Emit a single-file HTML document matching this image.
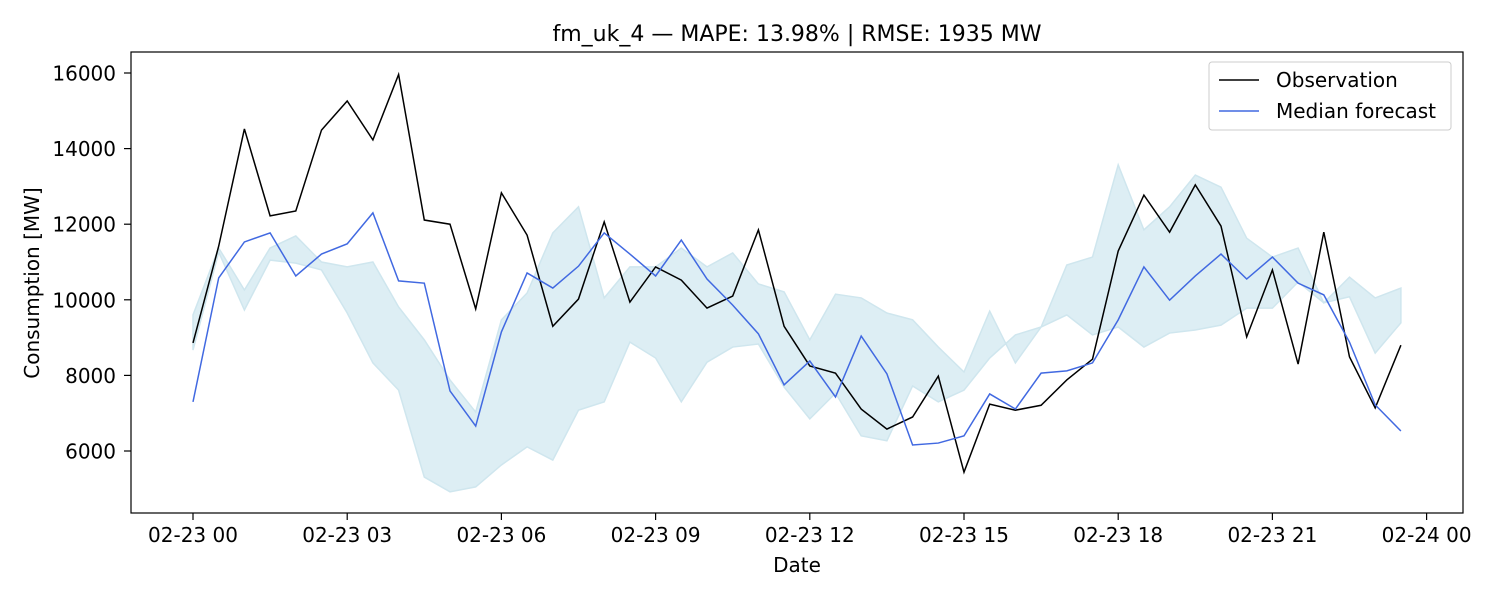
<!DOCTYPE html>
<html><head><meta charset="utf-8"><style>
body{margin:0;background:#fff;font-family:"DejaVu Sans","Liberation Sans",sans-serif}
svg text{font-family:"DejaVu Sans","Liberation Sans",sans-serif}
</style></head><body>
<svg id="chart" width="1500" height="600" xmlns="http://www.w3.org/2000/svg">
<rect width="1500" height="600" fill="#fff"/>
<text x="797" y="41" text-anchor="middle" font-size="22">fm_uk_4 — MAPE: 13.98% | RMSE: 1935 MW</text>
<g id="band"></g><g id="lines"></g><g id="axes"></g>
</svg>
<script>
const observation=[8860,11420,14520,12220,12350,14490,15260,14230,15960,12110,12000,9760,12830,11710,9300,10020,12060,9940,10870,10520,9780,10100,11850,9300,8250,8060,7110,6580,6900,7980,5440,7240,7080,7210,7880,8430,11290,12770,11790,13040,11950,9020,10790,8300,11790,8490,7140,8800];
const median=[7300,10580,11530,11770,10630,11210,11480,12300,10500,10440,7590,6660,9150,10710,10310,10890,11770,11210,10630,11580,10550,9860,9100,7750,8380,7430,9040,8040,6160,6210,6400,7510,7110,8060,8120,8330,9470,10870,9990,10630,11210,10550,11130,10440,10130,8880,7220,6530];
const upper=[9600,11370,10260,11370,11690,11000,10870,11000,9810,8940,7880,7030,9470,10180,11770,12460,10050,10870,10870,11370,10870,11240,10420,10210,8940,10150,10050,9650,9470,8750,8090,9700,8330,9280,10920,11130,13570,11850,12460,13300,12980,11630,11130,11370,9920,10600,10050,10310];
const lower=[8670,11260,9730,11050,10970,10790,9650,8330,7610,5310,4920,5050,5630,6110,5760,7080,7300,8880,8460,7300,8350,8750,8830,7690,6850,7530,6400,6270,7720,7300,7610,8460,9070,9280,9600,9070,9280,8750,9120,9200,9330,9780,9780,10470,9920,10080,8590,9390];
const yTicks=[6000,8000,10000,12000,14000,16000];
const xTickLabels=["02-23 00","02-23 03","02-23 06","02-23 09","02-23 12","02-23 15","02-23 18","02-23 21","02-24 00"];
const L=131,R=1463,T=52,B=513;
const X=i=>193+i*25.7; // i = half-hour index
const Y=v=>73+(16000-v)*0.0378;
const NS="http://www.w3.org/2000/svg";
function mk(tag,attrs,parent){const e=document.createElementNS(NS,tag);for(const k in attrs)e.setAttribute(k,attrs[k]);parent.appendChild(e);return e;}
const band=document.getElementById('band'),lines=document.getElementById('lines'),axes=document.getElementById('axes');
let pts=upper.map((v,i)=>X(i)+','+Y(v));
for(let i=lower.length-1;i>=0;i--)pts.push(X(i)+','+Y(lower[i]));
const poly=mk('polygon',{points:pts.join(' '),fill:'#ddeef4',stroke:'#cfe6ee','stroke-width':1.5},band);


const obs=mk('polyline',{points:observation.map((v,i)=>X(i)+','+Y(v)).join(' '),fill:'none',stroke:'#000','stroke-width':1.5},lines);


const med=mk('polyline',{points:median.map((v,i)=>X(i)+','+Y(v)).join(' '),fill:'none',stroke:'#4169e1','stroke-width':1.5},lines);


const frame=mk('rect',{x:L,y:T,width:R-L,height:B-T,fill:'none',stroke:'#000','stroke-width':1.2},axes);


yTicks.forEach(v=>{
  mk('line',{x1:L-7,x2:L,y1:Y(v),y2:Y(v),stroke:'#000','stroke-width':1.2},axes);
  const t=mk('text',{x:L-15,y:Y(v)+7.5,'text-anchor':'end','font-size':20},axes);t.textContent=v;
  
  
});
xTickLabels.forEach((s,k)=>{
  const x=X(k*6);
  mk('line',{x1:x,x2:x,y1:B,y2:B+7,stroke:'#000','stroke-width':1.2},axes);
  const t=mk('text',{x:x,y:B+29,'text-anchor':'middle','font-size':20},axes);t.textContent=s;
  
  
});
const xt=mk('text',{x:797,y:572,'text-anchor':'middle','font-size':20},axes);xt.textContent='Date';


const yt=mk('text',{x:39,y:283,'text-anchor':'middle','font-size':20,transform:'rotate(-90 39 283)'},axes);yt.textContent='Consumption [MW]';


const lg=mk('g',{},axes);


mk('rect',{x:1209,y:62,width:242,height:68,rx:3,fill:'#fff','fill-opacity':0.8,stroke:'#ccc'},lg);
mk('line',{x1:1219,x2:1259,y1:80,y2:80,stroke:'#000','stroke-width':1.5},lg);
mk('line',{x1:1219,x2:1259,y1:111,y2:111,stroke:'#4169e1','stroke-width':1.5},lg);
const l1=mk('text',{x:1276,y:87,'font-size':20},lg);l1.textContent='Observation';


const l2=mk('text',{x:1276,y:118,'font-size':20},lg);l2.textContent='Median forecast';


</script>
</body></html>
